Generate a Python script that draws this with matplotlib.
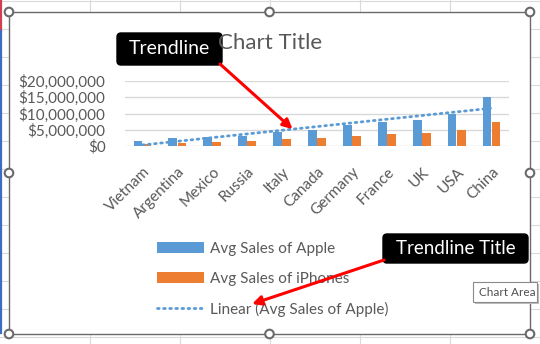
import numpy as np
import matplotlib
matplotlib.use("Agg")
import matplotlib.pyplot as plt
import matplotlib.transforms as mtransforms
from matplotlib.patches import Rectangle, Circle, FancyBboxPatch
from matplotlib.ticker import FuncFormatter

# data
countries = ["Vietnam", "Argentina", "Mexico", "Russia", "Italy", "Canada",
             "Germany", "France", "UK", "USA", "China"]
apple = [1.5e6, 2.45e6, 2.75e6, 3.05e6, 4.3e6, 4.9e6, 6.4e6, 7.35e6, 7.95e6, 10.0e6, 15.1e6]
iphones = [0.6e6, 0.9e6, 1.2e6, 1.5e6, 2.1e6, 2.45e6, 3.05e6, 3.65e6, 4.0e6, 4.9e6, 7.35e6]
yticks = [0, 5e6, 10e6, 15e6, 20e6]

BLUE = "#5B9BD5"
ORANGE = "#ED7D31"
GREY_TXT = "#595959"
GRID = "#D9D9D9"
SHEET = "#DADADA"

W, H = 540, 344
plt.rcParams["font.family"] = ["Lato", "DejaVu Sans"]
fig = plt.figure(figsize=(W / 100, H / 100), dpi=100)


def px(x0, y0, x1, y1):
    # pixel box with top-left origin -> figure fraction rect
    return [x0 / W, 1 - y1 / H, (x1 - x0) / W, (y1 - y0) / H]


# --- spreadsheet background and chart area frame
bg = fig.add_axes([0, 0, 1, 1], zorder=0)
bg.set_xlim(0, W)
bg.set_ylim(H, 0)
bg.axis("off")
for yy in range(0, H + 1, 28):
    bg.axhline(yy + 0.5, color=SHEET, lw=0.8, zorder=1)
for xx in range(89, W + 1, 90):
    bg.axvline(xx + 0.5, color=SHEET, lw=0.8, zorder=1)
bg.plot([0.8, 0.8], [0, 31], color="#D04050", lw=1.6, zorder=1)
bg.plot([0.8, 0.8], [31, 333], color="#3A6FC4", lw=1.6, zorder=1)
bg.add_patch(Rectangle((9, 12), 521, 322, fc="white", ec="#6A6A6A", lw=1.0, zorder=3))

# --- chart
ax = fig.add_axes(px(125, 81, 509, 146), zorder=1)
ax.patch.set_alpha(0)
x = np.arange(len(countries))
b1 = ax.bar(x - 0.13, apple, width=0.25, color=BLUE, zorder=2)
b2 = ax.bar(x + 0.13, iphones, width=0.25, color=ORANGE, zorder=2)
slope, icpt = np.polyfit(x, apple, 1)
tl, = ax.plot(x, slope * x + icpt, color=BLUE, lw=2, linestyle=(0, (0.6, 1.6)),
              dash_capstyle="round", zorder=3)

ax.set_xlim(-0.5, len(countries) - 0.5)
ax.set_ylim(0, 20e6)
ax.set_yticks(yticks)
ax.yaxis.set_major_formatter(FuncFormatter(lambda v, p: "${:,.0f}".format(v)))
ax.grid(axis="y", color=GRID, lw=1, zorder=0)
for s in ax.spines.values():
    s.set_visible(False)
ax.tick_params(axis="y", length=0, pad=14, labelsize=11, labelcolor=GREY_TXT)
ax.tick_params(axis="x", length=0, pad=17, labelsize=11, labelcolor=GREY_TXT)
ax.set_xticks(x)
ax.set_xticklabels(countries, rotation=45, ha="right", va="center", rotation_mode="anchor")
shift = mtransforms.ScaledTranslation(5 / 100, 0, fig.dpi_scale_trans)
for lab in ax.get_xticklabels():
    lab.set_transform(lab.get_transform() + shift)

fig.text(270 / W, 1 - 43 / H, "Chart Title", ha="center", va="center",
         fontsize=16, color=GREY_TXT)

leg = ax.legend([b1, b2, tl],
                ["Avg Sales of Apple", "Avg Sales of iPhones", "Linear (Avg Sales of Apple)"],
                loc="upper left", bbox_to_anchor=(149 / W, 1 - 234 / H),
                bbox_transform=fig.transFigure, frameon=False, fontsize=11,
                handlelength=3.1, handletextpad=0.4, labelspacing=1.05, borderpad=0)
for t in leg.get_texts():
    t.set_color(GREY_TXT)

# --- overlay: handles, callouts, tooltip
top = fig.add_axes([0, 0, 1, 1], zorder=3)
top.set_xlim(0, W)
top.set_ylim(H, 0)
top.axis("off")
top.patch.set_visible(False)

for hx, hy in [(9, 12), (269.5, 12), (530, 12), (9, 173), (530, 173),
               (9, 334), (269.5, 334), (530, 334)]:
    top.add_patch(Circle((hx, hy), 4.3, fc="white", ec="#6A6A6A", lw=1.5, zorder=5))

red_arrow = dict(arrowstyle="-|>", color="#FF0000", lw=2.2, mutation_scale=14,
                 shrinkA=0, shrinkB=0)

top.add_patch(FancyBboxPatch((117, 33), 105, 32, boxstyle="round,pad=0,rounding_size=4",
                             fc="black", ec="black", zorder=6))
top.text(169.5, 49, "Trendline", color="white", fontsize=14, ha="center", va="center", zorder=7)
tx = 4.3
top.annotate("", xy=(tx, slope * tx + icpt), xycoords=ax.transData,
             xytext=(220, 64), textcoords="data", arrowprops=red_arrow, zorder=6)

top.add_patch(FancyBboxPatch((383, 234), 145, 29, boxstyle="round,pad=0,rounding_size=4",
                             fc="black", ec="black", zorder=6))
top.text(455.5, 248.5, "Trendline Title", color="white", fontsize=13.5,
         ha="center", va="center", zorder=7)
top.annotate("", xy=(252, 304), xytext=(384, 260), arrowprops=red_arrow, zorder=6)

top.add_patch(Rectangle((475, 284), 64, 20, fc="#BDBDBD", ec="none", zorder=6))
top.add_patch(Rectangle((473, 282), 64, 20, fc="white", ec="#8A8A8A", lw=0.8, zorder=6))
top.text(479, 292, "Chart Area", color="#4F4F4F", fontsize=8.5, ha="left",
         va="center", zorder=7)

fig.savefig("out.png", dpi=100)
